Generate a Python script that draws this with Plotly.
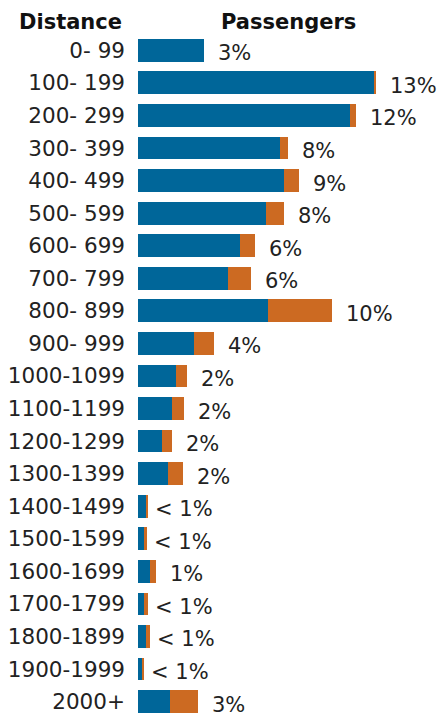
import plotly.graph_objects as go

categories = ["0- 99", "100- 199", "200- 299", "300- 399", "400- 499", "500- 599",
              "600- 699", "700- 799", "800- 899", "900- 999", "1000-1099", "1100-1199",
              "1200-1299", "1300-1399", "1400-1499", "1500-1599", "1600-1699",
              "1700-1799", "1800-1899", "1900-1999", "2000+"]
series_a = [66, 236, 212, 142, 146, 128, 102, 90, 130, 56, 38, 34, 24, 30, 8, 6, 12, 6, 8, 4, 32]
series_b = [0, 2, 6, 8, 15, 18, 15, 23, 64, 20, 11, 12, 10, 15, 2, 3, 6, 4, 4, 2, 28]
pct_labels = ["3%", "13%", "12%", "8%", "9%", "8%", "6%", "6%", "10%", "4%", "2%", "2%",
              "2%", "2%", "< 1%", "< 1%", "1%", "< 1%", "< 1%", "< 1%", "3%"]

BLUE = "#006699"
ORANGE = "#CC6A22"
TXT = "#222222"
FONT = "DejaVu Sans"

fig = go.Figure()
fig.add_trace(go.Bar(y=categories, x=series_a, orientation="h", marker_color=BLUE,
                     marker_line_width=0, hoverinfo="skip"))
fig.add_trace(go.Bar(y=categories, x=series_b, orientation="h", marker_color=ORANGE,
                     marker_line_width=0, hoverinfo="skip"))

annotations = []
for cat, a, b, lab in zip(categories, series_a, series_b, pct_labels):
    shift = 5 if lab.startswith("<") else 12
    annotations.append(dict(x=a + b, y=cat, xref="x", yref="y", text=lab,
                            showarrow=False, xanchor="left", yanchor="middle",
                            xshift=shift, yshift=-3,
                            font=dict(family=FONT, size=21, color=TXT)))

annotations.append(dict(x=-0.222, y=1, xref="paper", yref="paper", text="<b>Distance</b>",
                        showarrow=False, xanchor="center", yanchor="middle", yshift=12,
                        font=dict(family=FONT, size=21, color="#111111")))
annotations.append(dict(x=150, y=1, xref="x", yref="paper", text="<b>Passengers</b>",
                        showarrow=False, xanchor="center", yanchor="middle", yshift=12,
                        font=dict(family=FONT, size=21, color="#111111")))

fig.update_layout(
    barmode="stack",
    bargap=0.3,
    width=440, height=713,
    margin=dict(l=138, r=0, t=34, b=0, autoexpand=False),
    paper_bgcolor="white", plot_bgcolor="white",
    showlegend=False,
    annotations=annotations,
    xaxis=dict(range=[0, 302], visible=False, fixedrange=True, automargin=False),
    yaxis=dict(type="category", range=[20.35, -0.5], showgrid=False, zeroline=False,
               showline=False, ticks="", ticklabelstandoff=12, automargin=False,
               tickfont=dict(family=FONT, size=21.5, color=TXT), fixedrange=True),
)

fig.write_html("out.html", config={"displayModeBar": False},
               post_script="document.body.style.margin='0';document.body.style.overflow='hidden';")
